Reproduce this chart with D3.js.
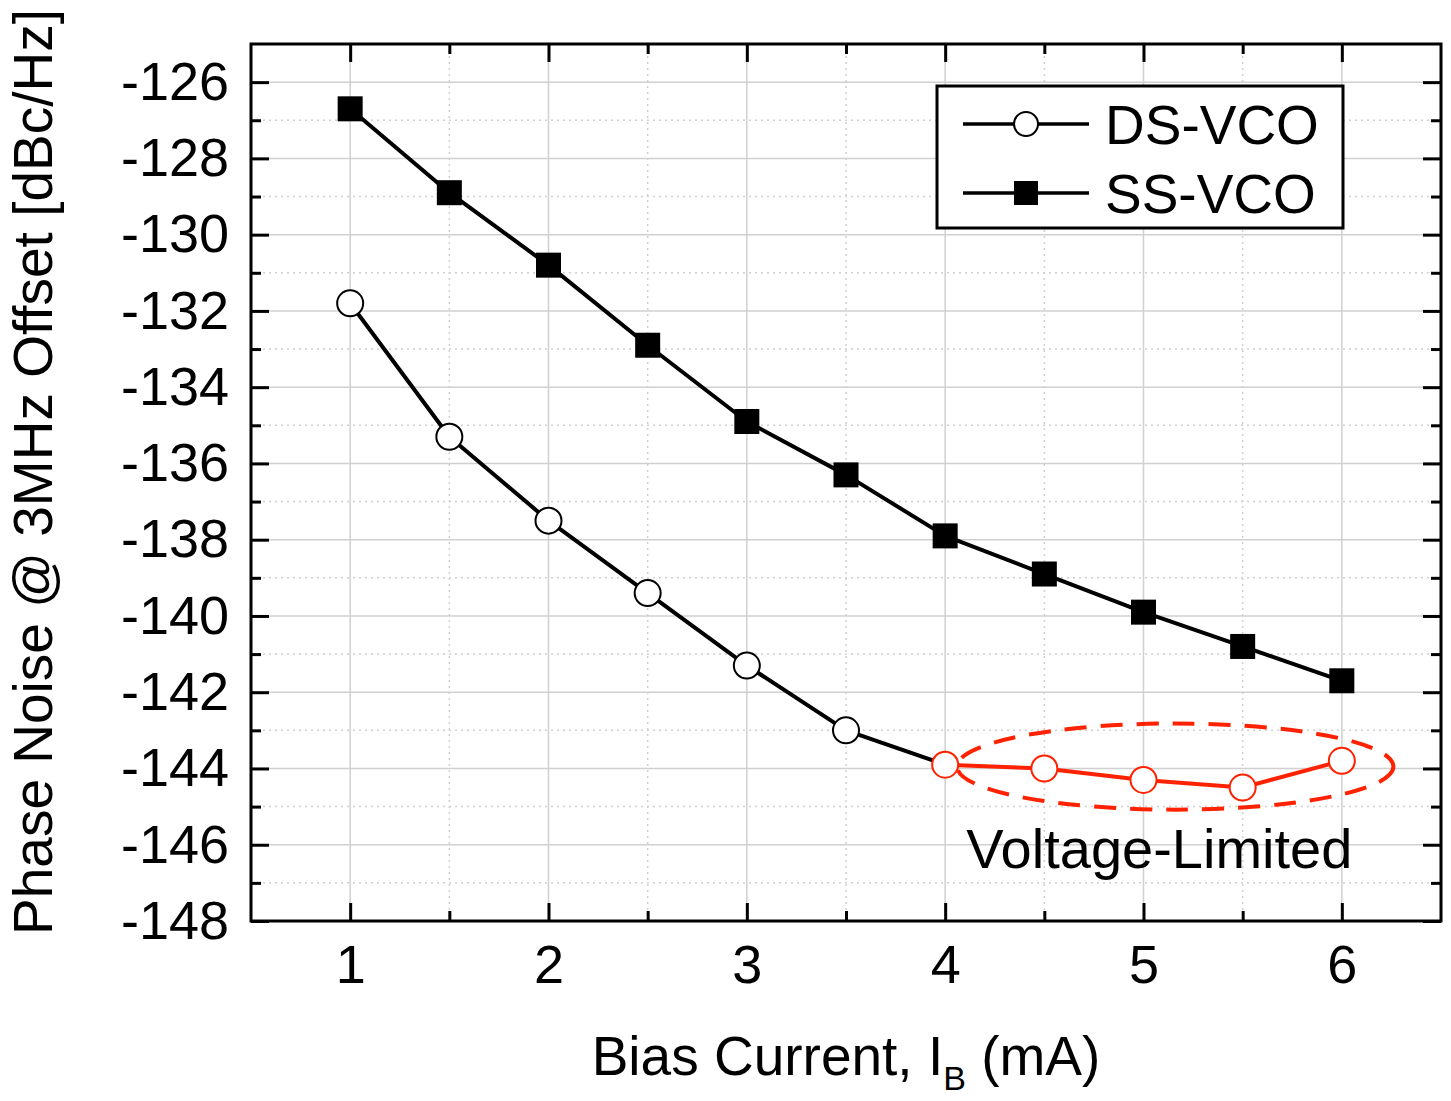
<!DOCTYPE html>
<head>
<meta charset="utf-8">
<style>
body { margin: 0; background: #fff; }
text { font-family: "Liberation Sans", Arial, sans-serif; }
.grid-major { stroke: #d0d0d0; stroke-width: 1.5px; }
.grid-minor { stroke: #d0d0d0; stroke-width: 1.5px; stroke-dasharray: 2,4; }
.series { fill: none; stroke-width: 4px; stroke-linejoin: round; }
</style>
<script src="https://d3js.org/d3.v7.min.js"></script>
</head>
<body>
<svg class="chart" width="1451" height="1101"></svg>
<script>

// Data.
var biasCurrent = [1, 1.5, 2, 2.5, 3, 3.5, 4, 4.5, 5, 5.5, 6];
var dsVco = [-131.8, -135.3, -137.5, -139.4, -141.3, -143.0, -143.9, -144.0, -144.3, -144.5, -143.8];
var ssVco = [-126.7, -128.9, -130.8, -132.9, -134.9, -136.3, -137.9, -138.9, -139.9, -140.8, -141.7];
var xTicks = [1, 2, 3, 4, 5, 6];
var yTicks = [-148, -146, -144, -142, -140, -138, -136, -134, -132, -130, -128, -126];
// Points from this current on are voltage-limited (drawn in red).
var limitStart = 4;
var ellipse = {cx: 5.16, cy: -143.95, rx: 1.1, ry: 1.13};
var noteText = "Voltage-Limited";

var red = "#ff2200";

var svg = d3.select(".chart"),
  margin = {top: 44, right: 10, bottom: 180, left: 251},
  width = 1441 - margin.left,
  height = 921 - margin.top,
  g = svg.append("g").attr("transform", "translate(" + margin.left + "," + margin.top + ")");

var x = d3.scaleLinear().domain([0.5, 6.5]).range([0, width]);
var y = d3.scaleLinear().domain([-148, -125]).range([height, 0]);

var xMinor = d3.range(1.5, 6.5, 1);
var yMinor = d3.range(-147, -125, 2);

// Grid lines.
g.selectAll(".gx").data(xTicks).enter().append("line")
  .attr("class", "grid-major")
  .attr("x1", x).attr("x2", x).attr("y1", 0).attr("y2", height);
g.selectAll(".gxm").data(xMinor).enter().append("line")
  .attr("class", "grid-minor")
  .attr("x1", x).attr("x2", x).attr("y1", 0).attr("y2", height);
g.selectAll(".gy").data(yTicks).enter().append("line")
  .attr("class", "grid-major")
  .attr("y1", y).attr("y2", y).attr("x1", 0).attr("x2", width);
g.selectAll(".gym").data(yMinor).enter().append("line")
  .attr("class", "grid-minor")
  .attr("y1", y).attr("y2", y).attr("x1", 0).attr("x2", width);

// Axes with inward ticks on all four sides.
function styleAxis(sel) {
  sel.select(".domain").remove();
  sel.selectAll(".tick line").attr("stroke", "#000").attr("stroke-width", 3);
  sel.selectAll(".tick text").attr("fill", "#000").style("font-size", "54px");
}
function addAxis(axis, tf, showLabels) {
  var a = g.append("g").attr("transform", tf).call(axis);
  styleAxis(a);
  if (!showLabels) a.selectAll(".tick text").remove();
  return a;
}
var fmt = function(d) { return d3.format("d")(d).replace("−", "-"); };

addAxis(d3.axisBottom(x).tickValues(xTicks).tickSizeInner(-18).tickPadding(24).tickFormat(fmt),
  "translate(0," + height + ")", true);
addAxis(d3.axisBottom(x).tickValues(xMinor).tickSizeInner(-10), "translate(0," + height + ")", false);
addAxis(d3.axisTop(x).tickValues(xTicks).tickSizeInner(-18), "translate(0,0)", false);
addAxis(d3.axisTop(x).tickValues(xMinor).tickSizeInner(-10), "translate(0,0)", false);
addAxis(d3.axisLeft(y).tickValues(yTicks).tickSizeInner(-18).tickPadding(22).tickFormat(fmt),
  "translate(0,0)", true);
addAxis(d3.axisLeft(y).tickValues(yMinor).tickSizeInner(-10), "translate(0,0)", false);
addAxis(d3.axisRight(y).tickValues(yTicks).tickSizeInner(-18), "translate(" + width + ",0)", false);
addAxis(d3.axisRight(y).tickValues(yMinor).tickSizeInner(-10), "translate(" + width + ",0)", false);

// Frame.
g.append("rect").attr("width", width).attr("height", height)
  .attr("fill", "none").attr("stroke", "#000").attr("stroke-width", 3);

// Series.
var ss = biasCurrent.map(function(c, i) { return {x: c, y: ssVco[i]}; });
var ds = biasCurrent.map(function(c, i) { return {x: c, y: dsVco[i]}; });
var line = d3.line().x(function(d) { return x(d.x); }).y(function(d) { return y(d.y); });

g.append("path").datum(ss).attr("class", "series").attr("stroke", "#000").attr("d", line);
g.append("path").datum(ds.filter(function(d) { return d.x <= limitStart; }))
  .attr("class", "series").attr("stroke", "#000").attr("d", line);
g.append("path").datum(ds.filter(function(d) { return d.x >= limitStart; }))
  .attr("class", "series").attr("stroke", red).attr("d", line);

// Dashed ellipse around the voltage-limited points.
g.append("ellipse")
  .attr("cx", x(ellipse.cx)).attr("cy", y(ellipse.cy))
  .attr("rx", x(ellipse.cx + ellipse.rx) - x(ellipse.cx))
  .attr("ry", y(ellipse.cy - ellipse.ry) - y(ellipse.cy))
  .attr("fill", "none").attr("stroke", red).attr("stroke-width", 4)
  .attr("stroke-dasharray", "22,14");

g.selectAll(".sq").data(ss).enter().append("rect")
  .attr("x", function(d) { return x(d.x) - 12.5; })
  .attr("y", function(d) { return y(d.y) - 12.5; })
  .attr("width", 25).attr("height", 25).attr("fill", "#000");

g.selectAll(".ci").data(ds).enter().append("circle")
  .attr("cx", function(d) { return x(d.x); })
  .attr("cy", function(d) { return y(d.y); })
  .attr("r", 13).attr("fill", "#fff")
  .attr("stroke", function(d) { return d.x >= limitStart ? red : "#000"; })
  .attr("stroke-width", 2);

g.append("text").attr("x", x(5.08)).attr("y", y(-146.6))
  .attr("text-anchor", "middle").style("font-size", "56px").attr("fill", "#000")
  .text(noteText);

// Legend.
var lg = svg.append("g").attr("transform", "translate(937,86)");
lg.append("rect").attr("width", 406).attr("height", 142)
  .attr("fill", "#fff").attr("stroke", "#000").attr("stroke-width", 3);
var legendItems = [{name: "DS-VCO", shape: "circle"}, {name: "SS-VCO", shape: "square"}];
legendItems.forEach(function(item, i) {
  var ly = 38 + i * 69;
  lg.append("line").attr("x1", 26).attr("x2", 152).attr("y1", ly).attr("y2", ly)
    .attr("stroke", "#000").attr("stroke-width", 3.5);
  if (item.shape == "circle") {
    lg.append("circle").attr("cx", 89).attr("cy", ly).attr("r", 12)
      .attr("fill", "#fff").attr("stroke", "#000").attr("stroke-width", 2);
  } else {
    lg.append("rect").attr("x", 77).attr("y", ly - 12).attr("width", 24).attr("height", 24).attr("fill", "#000");
  }
  lg.append("text").attr("x", 168).attr("y", ly + 20).style("font-size", "55px")
    .attr("fill", "#000").text(item.name);
});

// Axis titles.
var xt = svg.append("text").attr("x", 846).attr("y", 1075).attr("text-anchor", "middle")
  .style("font-size", "55px").attr("fill", "#000");
xt.append("tspan").text("Bias Current, I");
xt.append("tspan").attr("dy", 15).style("font-size", "34px").text("B");
xt.append("tspan").attr("dy", -15).text(" (mA)");

svg.append("text").attr("transform", "translate(52,472) rotate(-90)")
  .attr("text-anchor", "middle").style("font-size", "55px").attr("fill", "#000")
  .text("Phase Noise @ 3MHz Offset [dBc/Hz]");

</script>
</body>
